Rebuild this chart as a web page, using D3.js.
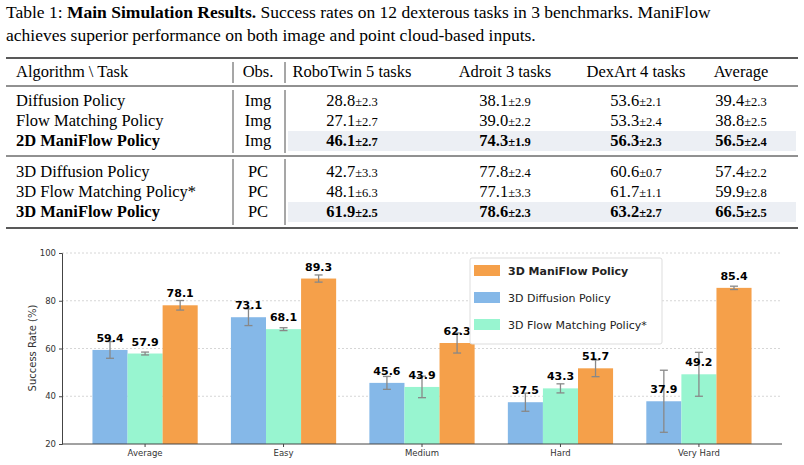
<!DOCTYPE html>
<html><head><meta charset="utf-8">
<script src="https://cdn.jsdelivr.net/npm/d3@7"></script>
<style>body{margin:0;background:#fff}</style></head>
<body><svg id="c" width="804" height="465"></svg>
<script>
// Table data
const tableHeader = ['Algorithm \\ Task', 'Obs.', 'RoboTwin 5 tasks', 'Adroit 3 tasks', 'DexArt 4 tasks', 'Average'];
const tableRows = [
  ['Diffusion Policy', 'Img', ['28.8','2.3'], ['38.1','2.9'], ['53.6','2.1'], ['39.4','2.3'], false],
  ['Flow Matching Policy', 'Img', ['27.1','2.7'], ['39.0','2.2'], ['53.3','2.4'], ['38.8','2.5'], false],
  ['2D ManiFlow Policy', 'Img', ['46.1','2.7'], ['74.3','1.9'], ['56.3','2.3'], ['56.5','2.4'], true],
  ['3D Diffusion Policy', 'PC', ['42.7','3.3'], ['77.8','2.4'], ['60.6','0.7'], ['57.4','2.2'], false],
  ['3D Flow Matching Policy*', 'PC', ['48.1','6.3'], ['77.1','3.3'], ['61.7','1.1'], ['59.9','2.8'], false],
  ['3D ManiFlow Policy', 'PC', ['61.9','2.5'], ['78.6','2.3'], ['63.2','2.7'], ['66.5','2.5'], true]
];
// Chart data
const levels = ['Average', 'Easy', 'Medium', 'Hard', 'Very Hard'];
const seriesNames = ['3D Diffusion Policy', '3D Flow Matching Policy*', '3D ManiFlow Policy'];
const dpValues = [59.4, 73.1, 45.6, 37.5, 37.9];
const fmValues = [57.9, 68.1, 43.9, 43.3, 49.2];
const mfValues = [78.1, 89.3, 62.3, 51.7, 85.4];
const dpErr = [3.5, 3.5, 2.7, 3.8, 13.0];
const fmErr = [0.6, 0.6, 4.5, 1.9, 9.2];
const mfErr = [2.0, 1.5, 4.2, 3.5, 0.7];
const yTicks = [20, 40, 60, 80, 100];

const svg = d3.select('#c');
const serif = 'Liberation Serif, serif';

// Caption
const cap = svg.append('text').attr('x', 6).attr('y', 18).attr('font-family', serif).attr('font-size', 17.5);
cap.append('tspan').text('Table 1: ');
cap.append('tspan').attr('font-weight', 'bold').text('Main Simulation Results.');
cap.append('tspan').text(' Success rates on 12 dexterous tasks in 3 benchmarks. ManiFlow');
svg.append('text').attr('x', 6).attr('y', 41).attr('font-family', serif).attr('font-size', 17.5)
  .text('achieves superior performance on both image and point cloud-based inputs.');

// Table
const colX = [16, 258, 352, 505, 636, 741];
const rowY = [106, 126, 146, 177, 197, 217];
rowY.forEach((y, i) => {
  if (tableRows[i][6]) svg.append('rect').attr('x', 288).attr('y', y - 15).attr('width', 508).attr('height', 20).attr('fill', '#eceff4');
});
[[58, 1.6], [86, 1], [156, 1], [228, 1.6]].forEach(([y, w]) =>
  svg.append('line').attr('x1', 6).attr('x2', 798).attr('y1', y).attr('y2', y).attr('stroke', '#222').attr('stroke-width', w));
[233, 285].forEach(x => [[62, 83], [90, 153], [159, 225]].forEach(([a, b]) =>
  svg.append('line').attr('x1', x).attr('x2', x).attr('y1', a).attr('y2', b).attr('stroke', '#222').attr('stroke-width', 0.8)));
tableHeader.forEach((h, j) => svg.append('text').attr('x', colX[j]).attr('y', 77)
  .attr('text-anchor', j === 0 ? 'start' : 'middle').attr('font-family', serif).attr('font-size', 16.5).text(h));
tableRows.forEach((r, i) => {
  const bold = r[6] ? 'bold' : 'normal';
  svg.append('text').attr('x', colX[0]).attr('y', rowY[i]).attr('font-family', serif).attr('font-size', 16.5)
    .attr('font-weight', bold).text(r[0]);
  svg.append('text').attr('x', colX[1]).attr('y', rowY[i]).attr('text-anchor', 'middle').attr('font-family', serif).attr('font-size', 16.5).text(r[1]);
  for (let j = 2; j < 6; j++) {
    const t = svg.append('text').attr('x', colX[j]).attr('y', rowY[i]).attr('text-anchor', 'middle')
      .attr('font-family', serif).attr('font-weight', bold);
    t.append('tspan').attr('font-size', 16.5).text(r[j][0]);
    t.append('tspan').attr('font-size', 12.5).text('±' + r[j][1]);
  }
});

// Chart
const sans = 'DejaVu Sans, sans-serif';
const x0 = d3.scaleBand().domain(levels).range([62, 782]).paddingInner(0.24).paddingOuter(0.22);
const x1 = d3.scaleBand().domain(seriesNames).range([0, x0.bandwidth()]);
const y = d3.scaleLinear().domain([20, 100]).range([444, 253]);
const colors = {'3D Diffusion Policy': '#85b8e8', '3D Flow Matching Policy*': '#98f5d0', '3D ManiFlow Policy': '#f5a04a'};
const vals = [dpValues, fmValues, mfValues], errs = [dpErr, fmErr, mfErr];

const chart = svg.append('g');
chart.selectAll('.grid').data(yTicks.slice(1)).join('line')
  .attr('x1', 62).attr('x2', 782).attr('y1', d => y(d)).attr('y2', d => y(d))
  .attr('stroke', '#ccc').attr('stroke-dasharray', '2,2').attr('stroke-width', 0.8);

seriesNames.forEach((s, k) => {
  const data = levels.map((l, i) => ({l, v: vals[k][i], e: errs[k][i]}));
  chart.selectAll('.b' + k).data(data).join('rect')
    .attr('x', d => x0(d.l) + x1(s)).attr('width', x1.bandwidth())
    .attr('y', d => y(d.v)).attr('height', d => y(20) - y(d.v)).attr('fill', colors[s]);
  data.forEach(d => {
    const cx = x0(d.l) + x1(s) + x1.bandwidth() / 2;
    const g = chart.append('g').attr('stroke', '#888').attr('stroke-width', 1.3);
    g.append('line').attr('x1', cx).attr('x2', cx).attr('y1', y(d.v - d.e)).attr('y2', y(d.v + d.e));
    [d.v - d.e, d.v + d.e].forEach(v => g.append('line').attr('x1', cx - 4).attr('x2', cx + 4).attr('y1', y(v)).attr('y2', y(v)));
    chart.append('text').attr('x', cx).attr('y', y(d.v) - 8).attr('text-anchor', 'middle')
      .attr('font-family', sans).attr('font-weight', 'bold').attr('font-size', 11).text(d.v.toFixed(1));
  });
});

const yAxis = chart.append('g').attr('transform', 'translate(62,0)')
  .call(d3.axisLeft(y).tickValues(yTicks).tickSize(3));
const xAxis = chart.append('g').attr('transform', 'translate(0,444)')
  .call(d3.axisBottom(x0).tickSize(3));
[yAxis, xAxis].forEach(a => {
  a.selectAll('text').attr('font-family', sans).attr('font-size', 8.5).attr('fill', '#333');
  a.selectAll('line').attr('stroke', '#444');
});
yAxis.select('.domain').attr('stroke', '#444');
xAxis.select('.domain').attr('stroke', '#444').attr('d', 'M62,0H782');
chart.append('text').attr('transform', 'translate(36,348) rotate(-90)').attr('text-anchor', 'middle')
  .attr('font-family', sans).attr('font-size', 10).attr('fill', '#333').text('Success Rate (%)');

// Legend
const lg = chart.append('g').attr('transform', 'translate(472,270)');
lg.append('rect').attr('x', -2).attr('y', -12).attr('width', 192).attr('height', 86)
  .attr('fill', '#fff').attr('stroke', '#ddd').attr('rx', 2);
['3D ManiFlow Policy', '3D Diffusion Policy', '3D Flow Matching Policy*'].forEach((s, i) => {
  lg.append('rect').attr('x', 2).attr('y', i * 27 - 5).attr('width', 26).attr('height', 11).attr('fill', colors[s]);
  lg.append('text').attr('x', 36).attr('y', i * 27 + 5).attr('font-family', sans).attr('font-size', 11)
    .attr('font-weight', i === 0 ? 'bold' : 'normal').attr('fill', '#222').text(s);
});
</script></body></html>
